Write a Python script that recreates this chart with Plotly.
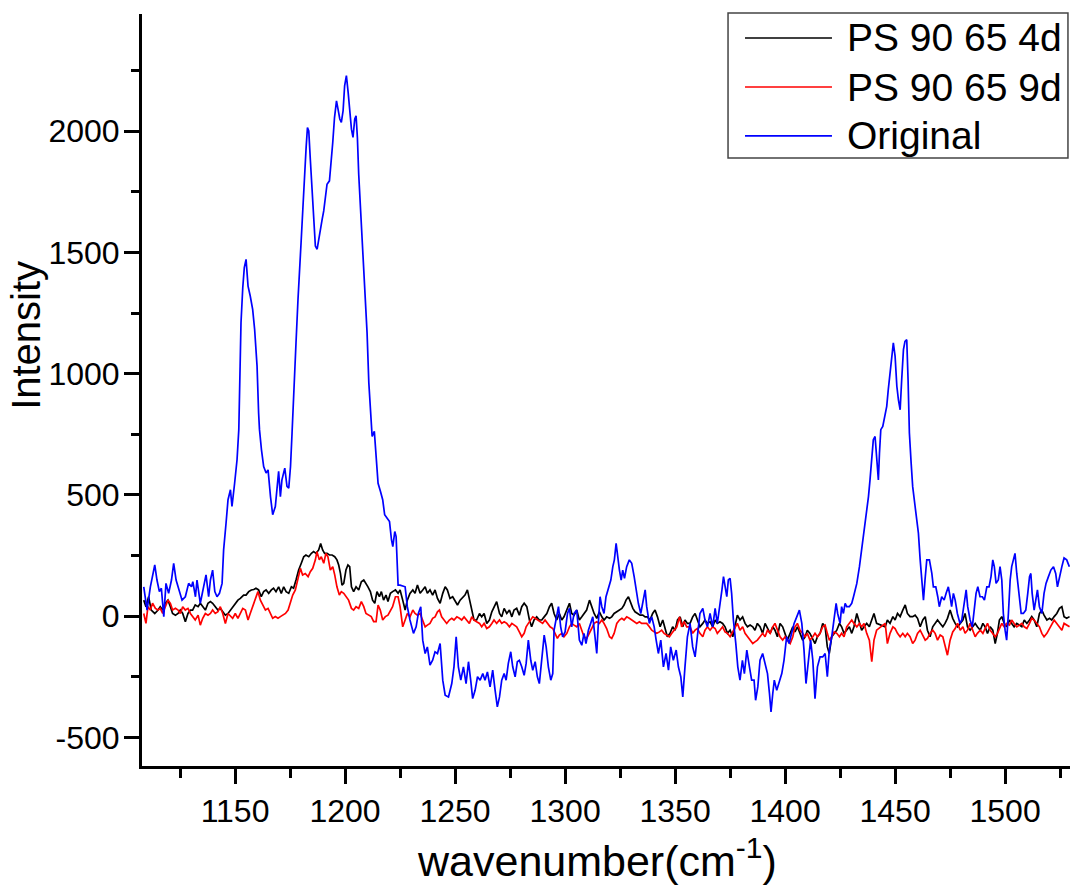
import plotly.graph_objects as go

# ---------------- data ----------------
SERIES_NAMES = ["PS 90 65 4d", "PS 90 65 9d", "Original"]
SERIES_COLORS = ["#000000", "#ff0000", "#0000ff"]

WN_ORIG = [
    1108.5, 1110.0, 1111.5, 1113.5, 1114.5, 1115.6, 1116.5, 1117.6, 1118.6, 1119.8,
    1121.1, 1122.1, 1123.2, 1124.4, 1125.9, 1127.4, 1128.9, 1130.2, 1130.8, 1132.0,
    1132.7, 1134.2, 1135.8, 1136.8, 1138.0, 1138.8, 1139.8, 1140.8, 1141.8, 1142.9,
    1144.1, 1144.8, 1145.9, 1146.8, 1147.9, 1148.6, 1149.8, 1150.9, 1151.7,
    1152.1, 1152.7, 1153.5, 1154.2, 1155.0, 1155.9, 1156.9, 1158.0, 1158.9, 1160.0, 1160.7,
    1161.1, 1162.0, 1163.0, 1164.1, 1165.0, 1166.1, 1167.1, 1168.3, 1169.1, 1169.8,
    1170.6, 1171.3, 1172.6, 1173.6, 1174.4, 1175.2, 1175.9,
    1176.7, 1177.7, 1178.6, 1179.2, 1180.0, 1180.8, 1181.5, 1182.3, 1182.9, 1183.5,
    1184.2, 1185.0, 1185.8, 1186.5, 1187.3, 1188.0, 1188.8, 1189.6, 1190.3, 1191.1,
    1191.8, 1192.9, 1193.6, 1194.4, 1195.2, 1196.1, 1196.8, 1197.6, 1198.3, 1199.1,
    1199.8, 1200.6, 1201.4, 1202.1, 1202.9, 1203.6, 1204.4, 1205.0, 1205.6, 1206.2,
    1207.0, 1207.7, 1208.5, 1209.2, 1210.0, 1210.8, 1211.5,
    1212.3, 1213.3, 1214.1, 1215.0, 1216.1, 1217.1, 1218.0, 1219.1, 1220.2, 1221.1,
    1221.7, 1222.6, 1223.2, 1224.1,
    1225.0, 1227.3, 1228.3, 1229.5, 1231.1, 1232.3, 1233.3, 1234.4, 1235.3, 1236.4,
    1237.4, 1238.6, 1239.8, 1240.9, 1242.0, 1243.2, 1244.4, 1245.5, 1247.0, 1248.5,
    1249.5, 1250.5, 1251.5, 1252.6, 1253.8, 1255.0, 1256.1, 1257.1, 1258.0, 1259.1,
    1260.2, 1261.4, 1262.6, 1263.6, 1264.7, 1265.9, 1267.1, 1268.2, 1269.2, 1270.2,
    1271.2, 1272.3, 1273.2, 1274.2, 1275.3, 1276.2, 1277.3, 1278.3, 1279.2, 1280.3,
    1281.4, 1282.3, 1283.3, 1284.4, 1285.3, 1286.4, 1287.4, 1288.3, 1289.4, 1290.5,
    1291.4, 1292.4, 1293.5, 1294.4, 1295.0, 1295.9, 1297.0, 1298.0, 1298.9, 1300.0,
    1301.1, 1302.0, 1303.0, 1304.1, 1305.3, 1306.5, 1307.6, 1308.6, 1309.5, 1310.6,
    1311.7, 1312.6, 1313.6, 1314.4, 1315.2, 1315.9, 1316.7, 1317.7, 1318.6, 1319.7,
    1320.8, 1321.7, 1322.4, 1323.2, 1323.8, 1324.7, 1325.5, 1326.2, 1327.0, 1328.0,
    1329.2, 1330.3, 1331.4, 1332.3, 1333.3, 1334.4, 1335.3, 1336.4, 1337.1, 1338.3,
    1339.4, 1340.5, 1341.4, 1342.4, 1343.5, 1344.7, 1345.9, 1347.0, 1348.0, 1349.2,
    1350.5, 1351.5, 1352.6, 1353.5, 1354.5, 1355.6,
    1356.8, 1358.0, 1359.1, 1360.1, 1361.3, 1362.6, 1363.6, 1364.7, 1365.9, 1367.1,
    1368.2, 1369.2, 1370.4, 1371.3, 1372.0, 1372.7, 1373.5, 1374.2, 1375.0, 1375.7,
    1376.5, 1377.6, 1378.5, 1379.5, 1380.6, 1381.5, 1382.6, 1383.8, 1384.8, 1385.9,
    1386.6, 1387.6, 1388.6, 1389.8, 1390.9, 1392.0, 1392.9, 1393.6, 1394.4, 1395.1,
    1396.2, 1397.4, 1398.5, 1399.5, 1400.7, 1401.8, 1403.0, 1404.1, 1405.3, 1406.5,
    1407.6, 1408.6, 1409.5, 1410.6, 1411.6, 1412.6, 1413.6, 1414.7, 1415.9, 1417.1,
    1418.2, 1419.2, 1420.1, 1421.2, 1422.3, 1423.2, 1423.9, 1425.0, 1425.7, 1426.5,
    1427.3, 1428.0, 1429.2, 1430.3,
    1431.1, 1432.6, 1433.8, 1434.8, 1435.9, 1436.8, 1437.9, 1438.6, 1439.4, 1440.1,
    1440.9, 1441.7, 1442.4, 1442.9, 1443.5, 1444.4, 1445.4, 1446.2, 1446.9, 1447.7,
    1448.5, 1449.2, 1450.0, 1450.8, 1451.5, 1452.3, 1453.0, 1453.8, 1454.5, 1455.3,
    1455.9, 1456.5, 1457.3, 1458.0, 1459.1, 1459.8, 1460.6, 1461.4, 1462.1, 1462.9,
    1463.6, 1464.4, 1465.6, 1466.7, 1467.4, 1468.5, 1469.4, 1470.1, 1471.2, 1472.3,
    1473.2, 1474.2, 1475.0, 1475.7, 1476.5, 1477.3, 1478.3, 1479.5, 1480.3, 1481.4,
    1482.3, 1483.0, 1484.1, 1485.1, 1485.9, 1486.8, 1487.6, 1488.6, 1489.7, 1490.6,
    1491.7, 1492.7, 1493.6, 1494.4, 1495.1, 1495.9, 1496.9, 1497.7, 1498.5, 1499.2,
    1500.0, 1500.7, 1501.5, 1502.3, 1503.0, 1503.8, 1504.5, 1505.3, 1506.4, 1507.3,
    1508.3, 1509.4, 1510.3, 1511.1, 1511.7, 1512.3, 1513.2, 1514.1, 1514.7, 1515.6,
    1516.7, 1517.7, 1518.6, 1519.7, 1520.8, 1522.0, 1523.0, 1523.8, 1524.7, 1525.8,
    1526.8, 1528.0, 1529.2,
]
INT_ORIG = [
    121, 25, 121, 211, 149, 101, 115, -2, 135, 94,
    149, 218, 149, 108, 66, 80, 135, 121, 142, 80,
    149, 53, 121, 170, 80, 149, 190, 101, 80, 94,
    135, 273, 383, 480, 521, 452, 548, 645, 769,
    976, 1210, 1354, 1437, 1471, 1361, 1320, 1265, 1182, 1031, 838,
    769, 686, 617, 590, 603, 493, 418, 452, 548, 597,
    493, 562, 610, 535, 528, 617, 755,
    948, 1127, 1306, 1430, 1540, 1678, 1822, 1933, 2015, 2001,
    1884, 1767, 1637, 1526, 1513, 1554, 1609, 1637, 1671, 1733,
    1781, 1795, 1857, 1953, 2056, 2125, 2091, 2050, 2036, 2084,
    2187, 2229, 2160, 2091, 2008, 1974, 2050, 2063, 1974, 1822,
    1692, 1568, 1464, 1347, 1168, 962, 838,
    741, 762, 672, 548, 514, 480, 418, 404, 390, 314,
    287, 349, 328, 128,
    128, 121, 39, -16, -71, -44, 11, 39, -99, -154,
    -127, -202, -182, -147, -154, -113, -264, -326, -333, -278,
    -209, -85, -209, -264, -209, -278, -188, -264, -340, -306,
    -250, -264, -237, -264, -230, -292, -223, -306, -374, -333,
    -264, -237, -264, -195, -147, -209, -250, -188, -182, -209,
    -244, -195, -99, -182, -223, -188, -250, -278, -188, -78,
    -127, -209, -264, -237, -58, -16, 39, -44, -85, -65,
    11, 32, -44, 11, 25, -99, -120, -71, -113, -58,
    -30, -3, -85, -154, -16, 80, 39, 11, 80, 121,
    149, 204, 232, 300, 245, 190, 149, 190, 156, 204,
    232, 218, 163, 108, 53, 11, 53, 108, 39, -30,
    -3, -44, -99, -154, -99, -209, -154, -223, -127, -182,
    -140, -209, -250, -333, -209, -85,
    -30, -127, -168, -85, 11, 32, -16, -44, 11, -44,
    32, -30, 39, 108, 163, 121, 80, 149, 156, 94,
    -16, -113, -209, -264, -182, -237, -140, -209, -264, -264,
    -347, -292, -182, -154, -195, -237, -319, -395, -319, -264,
    -306, -264, -237, -182, -85, -113, -71, -30, -3, 25,
    -30, -140, -278, -168, -99, -182, -340, -209, -168, -168,
    -154, -250, -140, -85, -16, 53, 11, -30, 39, 11,
    53, 39, 39, 53,
    80, 135, 204, 273, 342, 424, 493, 562, 645, 727,
    741, 658, 562, 672, 769, 782, 824, 865, 934, 1003,
    1072, 1127, 1072, 948, 893, 851, 975, 1099, 1133, 1140,
    975, 755, 631, 534, 452, 397, 342, 232, 149, 66,
    149, 232, 232, 176, 121, 121, 80, 39, 80, 66,
    94, 121, 80, 39, 94, 66, 11, -30, -16, 66,
    108, 39, -16, -44, 11, 94, 121, 80, 80, 66,
    121, 121, 163, 232, 204, 135, 149, 204, 149, 11,
    -58, -99, 11, 149, 204, 232, 259, 176, 80, 11,
    11, 25, 94, 163, 176, 94, 25, 80, 108, 39,
    11, 94, 135, 163, 190, 204, 176, 121, 163, 204,
    240, 232, 204,
]

WN_4D = [
    1108.5, 1109.5, 1110.7, 1111.9, 1113.5, 1115.0, 1116.0, 1117.1, 1118.3, 1119.5,
    1120.6, 1121.6, 1122.9, 1124.1, 1125.1, 1126.2, 1127.4, 1128.6, 1129.7, 1130.7,
    1131.9, 1133.2, 1134.2, 1135.3, 1136.5, 1137.7, 1138.8, 1139.8, 1141.0, 1142.2,
    1143.3, 1144.4, 1145.6, 1146.8, 1147.9, 1148.9, 1150.1, 1151.3, 1152.4, 1153.9,
    1155.0, 1156.2, 1157.4, 1158.5, 1159.5, 1160.7, 1161.9, 1163.0, 1164.1, 1165.3,
    1166.5, 1167.5, 1168.6, 1169.8, 1171.0, 1172.1, 1173.2, 1174.4, 1175.6, 1176.6,
    1177.7, 1178.9, 1180.1, 1181.2, 1182.2, 1183.5, 1184.7, 1185.7, 1186.8, 1188.0,
    1188.9, 1189.8, 1190.7, 1191.8, 1192.9, 1194.1, 1195.3, 1196.3, 1197.1, 1197.9,
    1198.6, 1199.4, 1200.4, 1201.3, 1202.1, 1202.9, 1203.9, 1205.0, 1206.2, 1207.4,
    1208.5, 1209.5, 1210.4, 1211.5, 1212.5, 1213.5, 1214.5, 1215.6, 1216.5, 1217.5,
    1218.6, 1219.5, 1220.6, 1221.6, 1222.9, 1224.1,
    1225.0, 1226.2, 1227.3, 1228.3, 1229.5, 1230.8, 1231.8, 1232.9, 1234.1, 1235.3,
    1236.4, 1237.4, 1238.6, 1239.8, 1240.9, 1242.0, 1243.2, 1244.4, 1245.5, 1246.5,
    1247.7, 1248.9, 1250.0, 1251.1, 1252.3, 1253.5, 1254.5, 1255.6, 1256.5, 1257.6,
    1258.6, 1259.8, 1261.1, 1262.1, 1263.2, 1264.4, 1265.6, 1266.7, 1267.7, 1268.9,
    1270.2, 1271.2, 1272.3, 1273.5, 1274.7, 1275.8, 1276.8, 1278.0, 1279.2, 1280.3,
    1281.4, 1282.6, 1283.8, 1284.8, 1285.9, 1287.1, 1288.3, 1289.4, 1290.5, 1291.7,
    1292.9, 1293.9, 1295.0, 1296.2, 1297.4, 1298.5, 1299.5, 1300.8, 1302.0, 1303.0,
    1304.1, 1305.3, 1306.5, 1307.6, 1308.6, 1309.8, 1311.1, 1312.1, 1313.2, 1314.4,
    1315.6, 1316.7, 1317.7, 1318.9, 1320.2, 1321.2, 1322.3, 1323.5, 1324.7, 1325.8,
    1326.8, 1327.7, 1328.8, 1329.8, 1330.8, 1331.8, 1332.9, 1334.1, 1335.3, 1336.4,
    1337.4, 1338.6, 1339.8, 1340.9, 1342.0, 1343.2, 1344.4, 1345.5, 1346.5, 1347.7,
    1348.9, 1350.0, 1351.1, 1352.3, 1353.5, 1354.5, 1355.6,
    1356.8, 1358.0, 1359.1, 1360.1, 1361.3, 1362.6, 1363.6, 1364.7, 1365.9, 1367.1,
    1368.2, 1369.2, 1370.4, 1371.6, 1372.7, 1373.8, 1375.0, 1376.2, 1377.3, 1378.3,
    1379.5, 1380.7, 1381.8, 1382.9, 1384.1, 1385.3, 1386.3, 1387.4, 1388.6, 1389.8,
    1390.9, 1392.0, 1393.2, 1394.4, 1395.4, 1396.5, 1397.7, 1398.9, 1400.0, 1401.0,
    1402.3, 1403.5, 1404.5, 1405.6, 1406.8, 1408.0, 1409.1, 1410.1, 1411.3, 1412.6,
    1413.6, 1414.7, 1415.9, 1417.1, 1418.2, 1419.2, 1420.1, 1421.2, 1422.3, 1423.5,
    1424.7, 1425.7, 1426.8, 1428.0, 1429.2, 1430.3, 1431.3, 1432.6, 1433.8, 1434.8,
    1435.9, 1437.1, 1438.3, 1439.4, 1440.4, 1441.6,
    1445.5, 1446.5, 1447.7, 1449.0, 1450.0, 1451.1, 1452.3, 1453.5, 1454.6, 1455.6,
    1456.8, 1458.0, 1459.1, 1460.2, 1461.4, 1462.6, 1463.7, 1464.7, 1465.9, 1467.1,
    1468.2, 1469.3, 1470.5, 1471.7, 1472.7, 1473.8, 1475.0, 1476.2, 1477.3, 1478.4,
    1479.6, 1480.8, 1481.8, 1482.9, 1484.1, 1485.3, 1486.4, 1487.4, 1488.7, 1489.9,
    1490.9, 1492.0, 1493.2, 1494.4, 1495.5, 1496.5, 1497.4, 1498.5, 1499.6, 1500.8,
    1502.0, 1503.0, 1504.1, 1505.3, 1506.5, 1507.6, 1508.7, 1509.9, 1511.1, 1512.1,
    1513.2, 1514.4, 1515.6, 1516.7, 1517.7, 1519.0, 1520.2, 1521.2, 1522.3, 1523.5,
    1524.7, 1525.8, 1526.8, 1528.0, 1529.3,
]
INT_4D = [
    66, 39, 80, 25, 11, 25, 39, 25, 53, 66,
    39, 11, 4, 11, 25, 11, -23, 11, 25, 25,
    46, 39, 53, 39, 25, 53, 60, 53, 39, 25,
    32, 18, 4, 11, 25, 39, 53, 66, 73, 87,
    87, 101, 108, 110, 115, 108, 80, 101, 108, 94,
    108, 115, 101, 121, 94, 121, 101, 94, 121, 115,
    149, 190, 218, 245, 252, 245, 259, 266, 259, 273,
    300, 273, 259, 259, 252, 252, 245, 232, 211, 176,
    128, 135, 190, 211, 204, 121, 101, 121, 108, 142,
    149, 135, 121, 101, 66, 53, 101, 80, 101, 66,
    87, 60, 94, 101, 108, 94,
    108, 66, 25, 66, 94, 108, 94, 128, 94, 108,
    121, 94, 108, 87, 108, 73, 53, 94, 121, 108,
    73, 80, 60, 46, 66, 80, 87, 108, 66, 25,
    -16, -16, 11, -3, 11, -30, -16, 18, 39, 60,
    11, -3, 32, 11, 25, -3, 25, 32, 4, 39,
    53, 39, -16, -44, -16, -3, -16, -16, -3, 11,
    39, 53, 11, -16, 11, -16, -3, 25, 53, 11,
    4, 25, -16, -3, 11, 25, 66, 39, 11, -9,
    18, -3, -16, -3, -9, -3, 11, 18, 25, 32,
    46, 66, 80, 53, 32, 18, 11, 4, 4, -3,
    -3, -16, 11, 25, -3, -44, -16, -58, -85, -71,
    -44, -58, -16, -3, -44, -16, -30,
    -30, -3, 11, -16, -44, -30, -16, -30, -23, -44,
    -16, -30, -23, -30, -44, -71, -58, -85, -30, 4,
    -16, -3, -30, -44, -37, -44, -58, -30, -44, -71,
    -30, -51, -71, -44, -58, -85, -30, -44, -78, -99,
    -71, -44, -65, -44, -71, -99, -85, -58, -71, -99,
    -113, -85, -71, -30, -44, -127, -154, -85, -71, -58,
    -30, -44, -71, -58, -44, -71, -44, 11, -30, -58,
    -44, -30, -44, -16, 11, -30,
    -44, -16, -30, -2, -16, 11, -2, 25, 46, 11,
    -2, -2, 4, -9, -44, -16, -2, -58, -85, -44,
    -30, -16, -30, -44, -30, -9, 25, -9, -30, -44,
    -30, -16, 11, -44, -58, -44, -30, -44, -58, -30,
    -44, -71, -44, -58, -113, -71, -16, -2, -30, -44,
    -16, -30, -44, -30, -37, -44, -16, -30, -16, -2,
    -16, -44, 11, 25, 4, -16, -9, -16, -2, 11,
    32, 39, -2, -9, -2,
]

WN_9D = [
    1108.5, 1109.5, 1110.4, 1111.5, 1112.5, 1113.8, 1115.0, 1116.0, 1117.1, 1118.3,
    1119.5, 1120.6, 1121.6, 1122.9, 1124.1, 1125.1, 1126.2, 1127.4, 1128.6, 1129.7,
    1130.7, 1131.9, 1133.2, 1134.2, 1135.3, 1136.5, 1137.7, 1138.8, 1139.8, 1141.0,
    1142.2, 1143.3, 1144.4, 1145.6, 1146.8, 1147.9, 1148.9, 1150.1, 1151.3, 1152.4,
    1153.5, 1154.7, 1155.9, 1156.9, 1158.0, 1159.2, 1160.4, 1161.5, 1162.5, 1163.8,
    1165.0, 1166.0, 1167.1, 1168.3, 1169.5, 1170.6, 1171.6, 1172.9, 1174.1, 1175.1,
    1176.2, 1177.4, 1178.6, 1179.7, 1180.7, 1181.9, 1183.2, 1184.2, 1185.3, 1186.5,
    1187.2, 1188.3, 1189.2, 1190.3, 1191.3, 1192.2, 1193.3, 1194.4, 1195.3, 1196.3,
    1197.4, 1198.3, 1199.4, 1200.4, 1201.6, 1202.9, 1203.9, 1205.0, 1206.2, 1207.4,
    1208.5, 1209.5, 1210.7, 1211.9, 1213.0, 1214.1, 1215.0, 1216.0, 1217.1, 1218.3,
    1219.5, 1220.6, 1221.6, 1222.9, 1224.1,
    1225.0, 1226.2, 1227.3, 1228.3, 1229.5, 1230.8, 1231.8, 1232.9, 1234.1, 1235.3,
    1236.4, 1237.4, 1238.6, 1239.8, 1240.9, 1242.0, 1242.9, 1243.9, 1245.0, 1246.2,
    1247.4, 1248.5, 1249.5, 1250.8, 1252.0, 1253.0, 1254.1, 1255.3, 1256.5, 1257.6,
    1258.6, 1259.8, 1261.1, 1262.1, 1263.2, 1264.4, 1265.6, 1266.7, 1267.7, 1268.9,
    1270.2, 1271.2, 1272.3, 1273.5, 1274.7, 1275.8, 1276.8, 1278.0, 1279.2, 1280.3,
    1281.4, 1282.3, 1283.3, 1284.4, 1285.3, 1286.4, 1287.4, 1288.6, 1289.8, 1290.9,
    1292.0, 1293.2, 1294.4, 1295.5, 1296.5, 1297.4, 1298.5, 1299.5, 1300.8, 1302.0,
    1303.0, 1304.1, 1305.3, 1306.5, 1307.6, 1308.6, 1309.8, 1311.1, 1312.1, 1313.2,
    1314.4, 1315.6, 1316.7, 1317.7, 1318.9, 1320.2, 1321.2, 1322.3, 1323.5, 1324.7,
    1325.8, 1326.8, 1328.0, 1329.2, 1330.3, 1331.4, 1332.6, 1333.8, 1334.8, 1335.9,
    1337.1, 1338.3, 1339.4, 1340.5, 1341.7, 1342.9, 1343.9, 1345.0, 1346.2, 1347.4,
    1348.5, 1349.5, 1350.8, 1352.0, 1353.0, 1354.1, 1355.3,
    1356.8, 1358.0, 1359.1, 1360.1, 1361.3, 1362.6, 1363.6, 1364.7, 1365.9, 1367.1,
    1368.2, 1369.2, 1370.4, 1371.6, 1372.7, 1373.8, 1375.0, 1376.2, 1377.3, 1378.3,
    1379.5, 1380.7, 1381.8, 1382.9, 1384.1, 1385.3, 1386.3, 1387.4, 1388.6, 1389.8,
    1390.9, 1392.0, 1393.2, 1394.4, 1395.4, 1396.5, 1397.7, 1398.9, 1400.0, 1401.0,
    1402.3, 1403.5, 1404.5, 1405.6, 1406.8, 1408.0, 1409.1, 1410.1, 1411.3, 1412.6,
    1413.6, 1414.7, 1415.9, 1417.1, 1418.2, 1419.2, 1420.1, 1421.2, 1422.3, 1423.5,
    1424.7, 1425.7, 1426.8, 1428.0, 1429.2, 1430.3, 1431.3, 1432.6, 1433.8, 1434.8,
    1435.9, 1437.1, 1438.3, 1439.4, 1440.4, 1441.6,
    1445.5, 1446.5, 1447.7, 1449.0, 1450.0, 1451.1, 1452.3, 1453.5, 1454.6, 1455.6,
    1456.8, 1458.0, 1459.1, 1460.2, 1461.4, 1462.6, 1463.7, 1464.7, 1465.9, 1467.1,
    1468.2, 1469.3, 1470.5, 1471.7, 1472.7, 1473.8, 1475.0, 1476.2, 1477.3, 1478.4,
    1479.6, 1480.8, 1481.8, 1482.9, 1484.1, 1485.3, 1486.4, 1487.4, 1488.7, 1489.9,
    1490.9, 1492.0, 1493.2, 1494.4, 1495.5, 1496.5, 1497.4, 1498.5, 1499.6, 1500.8,
    1502.0, 1503.0, 1504.1, 1505.3, 1506.5, 1507.6, 1508.7, 1509.9, 1511.1, 1512.1,
    1513.2, 1514.4, 1515.6, 1516.7, 1517.7, 1519.0, 1520.2, 1521.2, 1522.3, 1523.5,
    1524.7, 1525.8, 1526.8, 1528.0, 1529.3,
]
INT_9D = [
    11, -30, 39, 25, 53, 32, 25, 32, 11, 39,
    66, 53, 25, 32, 25, 11, 39, 25, 32, 11,
    -2, -16, 4, -37, -9, 11, 4, 11, 25, 11,
    18, 39, 11, -30, 11, -2, -9, 11, -9, 11,
    32, 25, -16, 11, 39, 66, 101, 66, 46, 25,
    32, 11, -9, -2, -9, -2, 4, 11, 25, 53,
    87, 108, 149, 197, 170, 176, 163, 183, 197, 232,
    266, 232, 245, 218, 259, 245, 190, 204, 170, 121,
    87, 101, 94, 80, 66, 32, 25, 39, 32, 60,
    39, 11, 4, -2, -23, -23, 46, 25, -16, -2,
    4, 25, 39, 80, 80,
    39, -44, -16, 11, -3, 25, 11, 4, 11, -16,
    -44, -37, -30, -9, -3, 18, 25, -3, -16, -30,
    -16, -9, -16, -3, -9, -16, -3, -16, -30, -3,
    -16, -23, -30, -44, -30, -51, -44, -30, -16, -30,
    -16, -30, -23, -30, -44, -30, -37, -44, -65, -85,
    -71, -44, -30, -16, -3, -9, -16, -23, -30, -16,
    -30, -44, -51, -71, -92, -78, -71, -85, -71, -44,
    -30, -37, -44, -30, -58, -85, -92, -71, -51, -30,
    -23, -30, -16, -30, -51, -85, -92, -71, -30, -16,
    -9, -16, -3, -9, -16, -23, -30, -23, -30, -30,
    -30, -44, -58, -65, -71, -65, -58, -71, -78, -85,
    -71, -58, -44, -3, -44, -23, -44,
    -44, -71, -58, -51, -71, -85, -58, -44, -58, -44,
    -51, -71, -58, -44, -65, -71, -85, -65, -44, -30,
    -58, -44, -71, -85, -99, -113, -106, -99, -85, -71,
    -85, -58, -71, -44, -30, -58, -85, -99, -85, -99,
    -113, -85, -44, -30, -58, -71, -85, -71, -99, -85,
    -71, -85, -71, -44, -37, -71, -99, -85, -65, -71,
    -85, -71, -85, -44, -30, -16, -30, -44, -30, -44,
    -30, -71, -99, -188, -99, -58,
    -30, -113, -71, -44, -51, -71, -85, -71, -85, -71,
    -85, -113, -99, -71, -58, -78, -99, -92, -71, -58,
    -71, -99, -78, -85, -127, -161, -99, -65, -51, -30,
    -58, -44, -71, -58, -30, -58, -85, -71, -58, -71,
    -51, -30, -58, -71, -85, -71, -51, -30, -44, -30,
    -37, -16, -30, -44, -37, -30, -44, -51, -30, -9,
    -16, -30, -44, -71, -85, -71, -51, -30, -16, -30,
    -44, -58, -30, -37, -44,
]

X_TICKS = [1150, 1200, 1250, 1300, 1350, 1400, 1450, 1500]
Y_TICKS = [-500, 0, 500, 1000, 1500, 2000]
Y_TICK_TEXT = ["-500", "0", "500", "1000", "1500", "2000"]
X_RANGE = [1107.7, 1529.5]
Y_RANGE = [-618, 2483]
X_TITLE = "wavenumber(cm<sup>-1</sup>)"
Y_TITLE = "Intensity"

FONT = "Liberation Sans, Arial, sans-serif"

fig = go.Figure()
for name, color, xs, ys in [
    (SERIES_NAMES[0], SERIES_COLORS[0], WN_4D, INT_4D),
    (SERIES_NAMES[1], SERIES_COLORS[1], WN_9D, INT_9D),
    (SERIES_NAMES[2], SERIES_COLORS[2], WN_ORIG, INT_ORIG),
]:
    fig.add_trace(go.Scatter(x=xs, y=ys, mode="lines", name=name,
                             line=dict(color=color, width=1.7), showlegend=False))

# custom legend (paper coordinates) to match the long line samples of the original
shapes = [dict(type="rect", xref="paper", yref="paper", x0=0.6315, x1=0.9978,
               y0=0.8085, y1=1.0013, line=dict(color="#444444", width=1.5),
               fillcolor="white", layer="above")]
annotations = []
row_y = [0.9681, 0.9029, 0.8378]
for i in range(3):
    shapes.append(dict(type="line", xref="paper", yref="paper", x0=0.6498, x1=0.7435,
                       y0=row_y[i], y1=row_y[i],
                       line=dict(color=SERIES_COLORS[i], width=1.7), layer="above"))
    annotations.append(dict(xref="paper", yref="paper", x=0.7575, y=row_y[i],
                            xanchor="left", yanchor="middle", showarrow=False,
                            text=SERIES_NAMES[i],
                            font=dict(family=FONT, size=39, color="black")))

# axis titles placed as in the original
annotations.append(dict(xref="paper", yref="paper", x=0.490, y=-0.122,
                        xanchor="center", yanchor="middle", showarrow=False,
                        text=X_TITLE, font=dict(family=FONT, size=43, color="black")))
annotations.append(dict(xref="paper", yref="paper", x=-0.125, y=0.572,
                        xanchor="center", yanchor="middle", showarrow=False,
                        textangle=-90, text=Y_TITLE,
                        font=dict(family=FONT, size=40, color="black")))

fig.update_layout(
    width=1070, height=888,
    margin=dict(l=142, r=0, t=14, b=122, autoexpand=False),
    paper_bgcolor="white", plot_bgcolor="white",
    font=dict(family=FONT, color="black"),
    shapes=shapes, annotations=annotations,
    showlegend=False,
)
fig.update_xaxes(
    range=X_RANGE, tickvals=X_TICKS, ticks="outside", ticklen=15, tickwidth=3,
    tickcolor="black", showline=True, linecolor="black", linewidth=3,
    showgrid=False, zeroline=False, mirror=False, automargin=False,
    tickfont=dict(family=FONT, size=32, color="black"), ticklabelstandoff=0,
    minor=dict(ticks="outside", ticklen=9, tickwidth=3, tickcolor="black", dtick=25,
               tick0=1125, showgrid=False),
)
fig.update_yaxes(
    range=Y_RANGE, tickvals=Y_TICKS, ticktext=Y_TICK_TEXT, ticks="outside",
    ticklen=15, tickwidth=3,
    tickcolor="black", showline=True, linecolor="black", linewidth=3,
    showgrid=False, zeroline=False, mirror=False, automargin=False,
    tickfont=dict(family=FONT, size=32, color="black"), ticklabelstandoff=-2,
    minor=dict(ticks="outside", ticklen=8, tickwidth=3, tickcolor="black", dtick=250,
               tick0=-250, showgrid=False),
)

fig.write_html("out.html", config={"displayModeBar": False},
               post_script="document.body.style.margin='0px';")
